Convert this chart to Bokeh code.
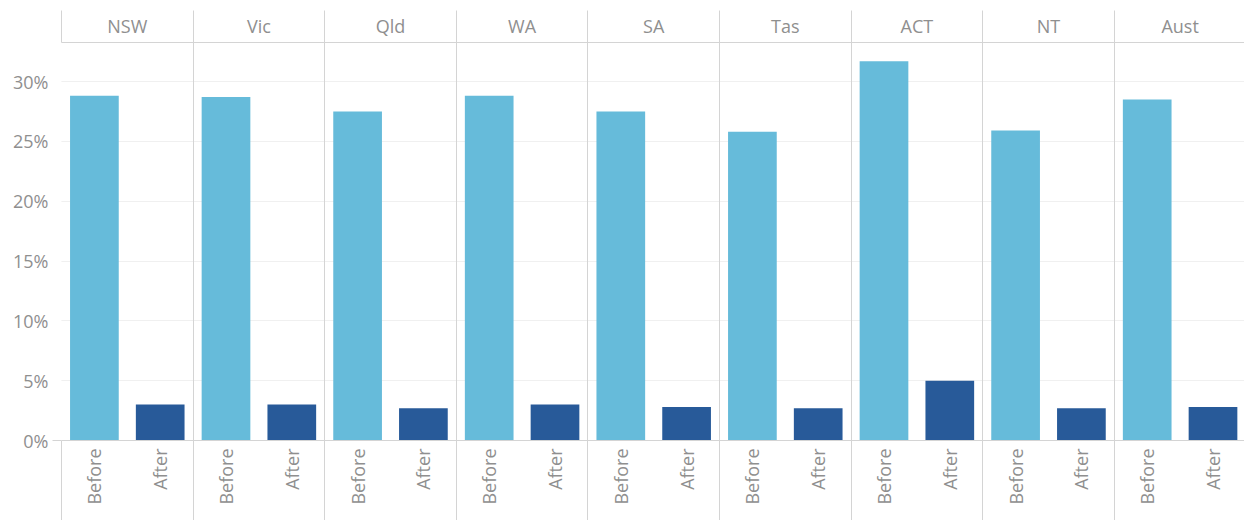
import math
from bokeh.plotting import figure
from bokeh.models import Range1d, FixedTicker, LinearAxis, NumeralTickFormatter, ColumnDataSource, Grid
from bokeh.embed import file_html
from bokeh.resources import INLINE

# ---- data ----
states = ["NSW", "Vic", "Qld", "WA", "SA", "Tas", "ACT", "NT", "Aust"]
phases = ["Before", "After"]
before = [28.8, 28.7, 27.5, 28.8, 27.5, 25.8, 31.7, 25.9, 28.5]   # percent
after = [3.0, 3.0, 2.7, 3.0, 2.8, 2.7, 5.0, 2.7, 2.8]              # percent
y_ticks = [0.0, 0.05, 0.10, 0.15, 0.20, 0.25, 0.30]
phase_colors = {"Before": "#66bbda", "After": "#285a99"}

# ---- styles ----
FONT = "Open Sans"
FSIZE = "18px"
TXT = "#8f8f8f"
SEP = "#d4d4d4"
GRID = "#f0f0f0"

n = len(states)
m = len(phases)
series = {"Before": before, "After": after}

xs, tops, cols, lab = [], [], [], []
for i, s in enumerate(states):
    for j, ph in enumerate(phases):
        xs.append(i + (j + 0.5) / m)
        tops.append(series[ph][i] / 100.0)
        cols.append(phase_colors[ph])
        lab.append(ph)
src = ColumnDataSource(dict(x=xs, top=tops, color=cols, phase=lab))

boundaries = [float(i) for i in range(n + 1)]
centers = [i + 0.5 for i in range(n)]

W, H = 1244, 520
LEFT, TOP, BOTTOM = 61, 42, 80
p = figure(width=W, height=H, output_backend="svg", toolbar_location=None,
           x_range=Range1d(0, (W - LEFT) / 131.6), y_range=Range1d(0, 0.3326),
           x_axis_location=None, y_axis_location=None, min_border=0)
p.min_border_left = LEFT
p.min_border_right = 0
p.min_border_top = TOP
p.min_border_bottom = BOTTOM
p.outline_line_color = None
p.background_fill_color = "white"
p.border_fill_color = "white"

# grids
p.add_layout(Grid(dimension=1, ticker=FixedTicker(ticks=y_ticks), grid_line_color=GRID, grid_line_width=1))
p.add_layout(Grid(dimension=0, ticker=FixedTicker(ticks=boundaries), grid_line_color=SEP, grid_line_width=1))

# bars
p.vbar(x="x", top="top", bottom=0, width=0.37, source=src, fill_color="color", line_color=None)

# left axis
yax = LinearAxis(ticker=FixedTicker(ticks=y_ticks, minor_ticks=[0.0]),
                 formatter=NumeralTickFormatter(format="0%"))
yax.axis_line_color = None
yax.major_tick_line_color = None
yax.major_tick_out = 0
yax.major_tick_in = 0
yax.minor_tick_out = 9
yax.minor_tick_in = 0
yax.minor_tick_line_color = SEP
yax.major_label_standoff = 4
yax.major_label_text_font = FONT
yax.major_label_text_font_size = FSIZE
yax.major_label_text_color = TXT
p.add_layout(yax, "left")

# bottom axis (Before / After)
bax = LinearAxis(ticker=FixedTicker(ticks=xs, minor_ticks=boundaries))
bax.major_label_overrides = {x: ph for x, ph in zip(xs, lab)}
bax.major_label_orientation = math.pi / 2
bax.axis_line_color = SEP
bax.major_tick_line_color = None
bax.major_tick_out = 0
bax.major_tick_in = 0
bax.minor_tick_out = 80
bax.minor_tick_in = 0
bax.minor_tick_line_color = SEP
bax.major_label_standoff = -72
bax.major_label_text_font = FONT
bax.major_label_text_font_size = FSIZE
bax.major_label_text_color = TXT
p.add_layout(bax, "below")

# top axis (state headers)
tax = LinearAxis(ticker=FixedTicker(ticks=centers, minor_ticks=boundaries))
tax.major_label_overrides = {c: s for c, s in zip(centers, states)}
tax.axis_line_color = SEP
tax.major_tick_line_color = None
tax.major_tick_out = 0
tax.major_tick_in = 0
tax.minor_tick_out = 32
tax.minor_tick_in = 0
tax.minor_tick_line_color = SEP
tax.major_label_standoff = -27
tax.major_label_text_font = FONT
tax.major_label_text_font_size = FSIZE
tax.major_label_text_color = TXT
p.add_layout(tax, "above")

open("out.html", "w").write(file_html(p, INLINE))
